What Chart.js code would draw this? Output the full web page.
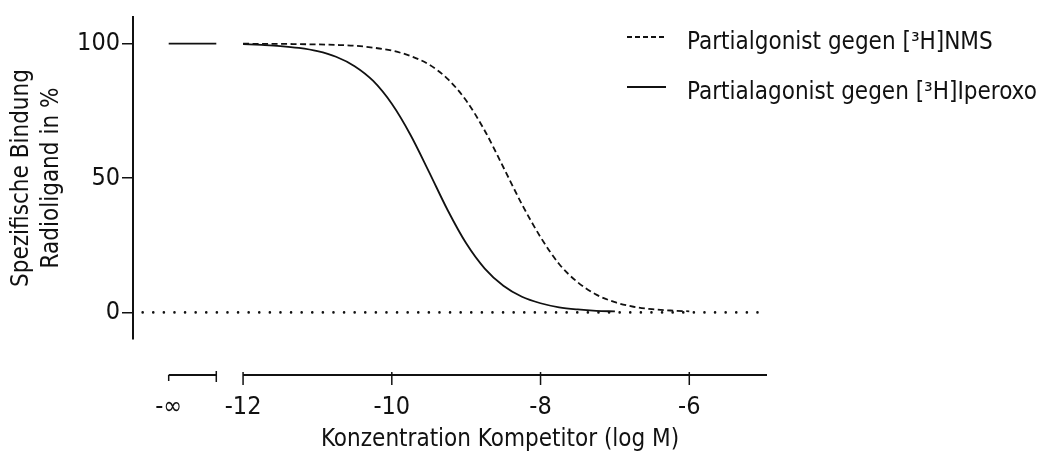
<!DOCTYPE html>
<html>
<head>
<meta charset="utf-8">
<script src="https://cdn.jsdelivr.net/npm/chart.js@4.4.0/dist/chart.umd.min.js"></script>
<style>
  html, body { margin: 0; padding: 0; background: #fff; }
  #chart { display: block; }
</style>
</head>
<body>
<canvas id="chart" width="1052" height="452"></canvas>
<script>
const FONT = "'DejaVu Sans Condensed', 'DejaVu Sans', sans-serif";

const seriesLabels = ["Partialgonist gegen [³H]NMS", "Partialagonist gegen [³H]Iperoxo"];
const xTitle = "Konzentration Kompetitor (log M)";
const yTitle = ["Spezifische Bindung", "Radioligand in %"];

// log concentrations and % binding
const logNMS = [-12, -11.75, -11.5, -11.25, -11, -10.75, -10.5, -10.25, -10, -9.75, -9.5, -9.25,
  -9, -8.75, -8.5, -8.25, -8, -7.75, -7.5, -7.25, -7, -6.75, -6.5, -6.25, -6];
const bindNMS = [100.0, 99.9, 99.9, 99.8, 99.7, 99.5, 99.2, 98.5, 97.4, 95.4, 92.2, 86.9,
  78.8, 67.6, 54.0, 40.2, 28.0, 18.0, 11.2, 6.6, 3.8, 2.1, 1.2, 0.7, 0.4];

const logIperoxo = [-12, -11.75, -11.5, -11.25, -11, -10.75, -10.5, -10.25, -10, -9.75, -9.5,
  -9.25, -9, -8.75, -8.5, -8.25, -8, -7.75, -7.5, -7.25, -7];
const bindIperoxo = [99.8, 99.5, 99.1, 98.4, 97.2, 95.1, 91.6, 86.1, 77.6, 66.1, 52.3,
  38.1, 25.7, 16.3, 9.9, 5.8, 3.4, 1.9, 1.1, 0.6, 0.35];

// top plateau drawn over the "-∞" part of the axis
const logInf = [-13, -12.36];
const topInf = [100, 100];

// dotted zero line
const zeroX = [-13.35, -4.955];
const zeroY = [0, 0];

const axisBreak = [-13, -12.36];
const xTicks = [-13, -12, -10, -8, -6];
const xTickLabels = ["-∞", "-12", "-10", "-8", "-6"];
const yTicks = [0, 50, 100];

const pts = (xs, ys) => xs.map((x, i) => ({ x: x, y: ys[i] }));

const brokenAxis = {
  id: "brokenAxis",
  afterDraw(chart) {
    const { ctx, chartArea } = chart;
    const x = chart.scales.x;
    const y0 = chartArea.bottom + 36;
    const line = (x1, y1, x2, y2) => {
      ctx.beginPath(); ctx.moveTo(x1, y1); ctx.lineTo(x2, y2); ctx.stroke();
    };
    ctx.save();
    ctx.strokeStyle = "#111";
    ctx.lineWidth = 2;
    const a = x.getPixelForValue(axisBreak[0]);
    const b = x.getPixelForValue(axisBreak[1]);
    const c = x.getPixelForValue(xTicks[1]);
    line(a, y0, b, y0);
    line(c, y0, chartArea.right, y0);
    ctx.lineWidth = 1.5;
    line(a, y0, a, y0 + 6);
    line(b, y0 - 4, b, y0 + 7);
    xTicks.slice(1).forEach(v => {
      const p = x.getPixelForValue(v);
      line(p, y0 - 3, p, y0 + 10);
    });
    ctx.fillStyle = "#111";
    ctx.font = "24px " + FONT;
    ctx.textAlign = "center";
    ctx.textBaseline = "middle";
    ctx.fillText(xTitle, (c + chartArea.right) / 2 - 5, y0 + 65);
    ctx.restore();
  }
};

const legendBox = {
  id: "legendBox",
  afterDraw(chart) {
    const ctx = chart.ctx;
    ctx.save();
    ctx.font = "24px " + FONT;
    ctx.fillStyle = "#111";
    ctx.textAlign = "left";
    ctx.textBaseline = "alphabetic";
    [0, 1].forEach((i, k) => {
      const ds = chart.data.datasets[i];
      const yl = 37 + k * 50;
      ctx.strokeStyle = ds.borderColor;
      ctx.lineWidth = ds.borderWidth;
      ctx.setLineDash(ds.borderDash ? [5, 3] : []);
      ctx.beginPath(); ctx.moveTo(627, yl); ctx.lineTo(666, yl); ctx.stroke();
      ctx.setLineDash([]);
      ctx.fillText(ds.label, 687, yl + 11.5);
    });
    ctx.restore();
  }
};

const ctx = document.getElementById("chart").getContext("2d");

new Chart(ctx, {
  type: "line",
  data: {
    datasets: [
      {
        label: seriesLabels[0],
        data: pts(logNMS, bindNMS),
        borderColor: "#111",
        borderWidth: 1.8,
        borderDash: [6, 3.5],
        pointRadius: 0,
        cubicInterpolationMode: "monotone"
      },
      {
        label: seriesLabels[1],
        data: pts(logIperoxo, bindIperoxo),
        borderColor: "#111",
        borderWidth: 1.8,
        pointRadius: 0,
        cubicInterpolationMode: "monotone"
      },
      {
        label: "top",
        data: pts(logInf, topInf),
        borderColor: "#111",
        borderWidth: 1.8,
        pointRadius: 0
      },
      {
        label: "zero",
        data: pts(zeroX, zeroY),
        borderColor: "#111",
        borderWidth: 2.6,
        borderDash: [0, 10.6],
        borderCapStyle: "round",
        pointRadius: 0
      }
    ]
  },
  options: {
    responsive: false,
    animation: false,
    devicePixelRatio: 1,
    layout: { padding: { top: 9, right: 285, left: 0, bottom: 0 } },
    plugins: {
      legend: { display: false },
      tooltip: { enabled: false }
    },
    scales: {
      x: {
        type: "linear",
        min: -13.48,
        max: -4.955,
        afterBuildTicks: s => { s.ticks = xTicks.map(v => ({ value: v })); },
        afterFit: s => { s.height = 113; },
        grid: { display: false, drawTicks: false },
        border: { display: false },
        ticks: {
          autoSkip: false,
          maxRotation: 0,
          padding: 53,
          color: "#111",
          font: { family: FONT, size: 25 },
          callback: v => xTickLabels[xTicks.indexOf(v)]
        }
      },
      y: {
        min: -9.9,
        max: 109.9,
        afterBuildTicks: s => { s.ticks = yTicks.map(v => ({ value: v })); },
        afterFit: s => { s.width = 133; },
        grid: { drawOnChartArea: false, drawTicks: true, tickLength: 11, color: "#111", lineWidth: 1.5 },
        border: { display: true, color: "#111", width: 2 },
        ticks: { padding: 2, color: "#111", font: { family: FONT, size: 25 } },
        title: {
          display: true,
          text: yTitle,
          color: "#111",
          font: { family: FONT, size: 24, lineHeight: 1.25 },
          padding: { top: 7, bottom: 0 }
        }
      }
    }
  },
  plugins: [brokenAxis, legendBox]
});
</script>
</body>
</html>
